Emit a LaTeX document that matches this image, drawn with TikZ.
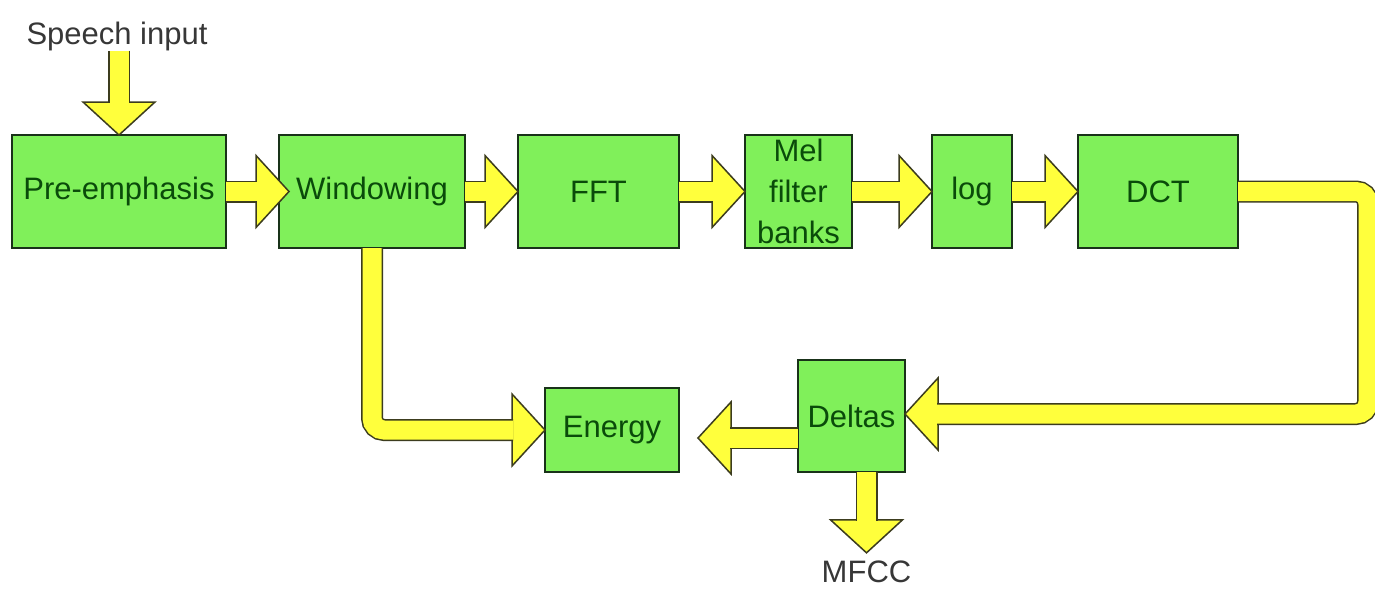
\documentclass[tikz,border=0pt]{standalone}
\usepackage{fontspec}
\setmainfont{Liberation Sans}
\usetikzlibrary{positioning, calc}

\definecolor{boxgreen}{RGB}{128,240,90}
\definecolor{boxline}{RGB}{25,50,25}
\definecolor{labelgreen}{RGB}{10,75,10}
\definecolor{fatyellow}{RGB}{255,255,60}
\definecolor{fatline}{RGB}{60,60,30}
\definecolor{plaintext}{RGB}{55,55,55}

\tikzset{
  stage/.style = {draw = boxline, fill = boxgreen, line width = 1.5pt, text = labelgreen,
    inner sep = 0pt, outer sep = 0pt, align = center, font = \fontsize{31}{41}\selectfont,
    minimum height = 113pt},
  io/.style = {text = plaintext, inner sep = 0pt, font = \fontsize{31}{38}\selectfont},
  shaft/.style = {draw = fatline, line width = 1.5pt, double = fatyellow,
    double distance = 19pt, rounded corners = 12pt},
  fathead/.style = {draw = fatline, fill = fatyellow, line width = 1.5pt, line join = miter}
}

% block arrow head: tip point, direction
\newcommand{\headat}[2]{\draw [fathead, shift = {#1}, rotate = #2] (0,0) -- (-33,36) -- (-33,-36) -- cycle;}

\begin{document}
\begin{tikzpicture}[x = 1pt, y = -1pt]

\path [use as bounding box, fill = white] (0,0) rectangle (1375,589);

\node [stage, minimum width = 214pt] (pre) at (119, 191.5) {Pre-emphasis};
\node [stage, minimum width = 186pt, right = 53pt of pre] (win) {Windowing};
\node [stage, minimum width = 161pt, right = 53pt of win] (fft) {FFT};
\node [stage, minimum width = 107pt, right = 66pt of fft] (mel) {Mel\\filter\\banks};
\node [stage, minimum width = 80pt, right = 80pt of mel] (log) {log};
\node [stage, minimum width = 160pt, right = 66pt of log] (dct) {DCT};

\node [stage, minimum width = 107pt, minimum height = 112pt] (deltas) at (851.5, 416) {Deltas};
\node [stage, minimum width = 134pt, minimum height = 84pt] (energy) at (612, 430) {Energy};

\node [io] (speech) at (117, 36) {Speech input};
\node [io] (mfcc) at (866.5, 572) {MFCC};

\coordinate (etip) at ([xshift = 19pt, yshift = -8pt]energy.east);
\coordinate (mtip) at ([yshift = 8pt]mfcc.north);

\headat{(pre.north)}{-90}
\headat{([xshift = 10pt]win.west)}{0}
\headat{(fft.west)}{0}
\headat{(mel.west)}{0}
\headat{(log.west)}{0}
\headat{(dct.west)}{0}
\headat{([yshift = 2pt]deltas.east)}{180}
\headat{(energy.west)}{0}
\headat{(etip)}{180}
\headat{(mtip)}{-90}

\draw [shaft] (speech.south -| pre.north) -- ([yshift = 32pt]pre.north);
\draw [shaft] (pre.east) -- ([xshift = -22pt]win.west);
\draw [shaft] (win.east) -- ([xshift = -32pt]fft.west);
\draw [shaft] (fft.east) -- ([xshift = -32pt]mel.west);
\draw [shaft] (mel.east) -- ([xshift = -32pt]log.west);
\draw [shaft] (log.east) -- ([xshift = -32pt]dct.west);
\draw [shaft] (dct.east) -- ++(130, 0) |- ([xshift = 32pt, yshift = 2pt]deltas.east);
\draw [shaft] (win.south) |- ([xshift = -32pt]energy.west);
\draw [shaft] (deltas.west |- etip) -- ([xshift = 32pt]etip);
\draw [shaft] (deltas.south -| mtip) -- ([yshift = 32pt]mtip);

\end{tikzpicture}
\end{document}
